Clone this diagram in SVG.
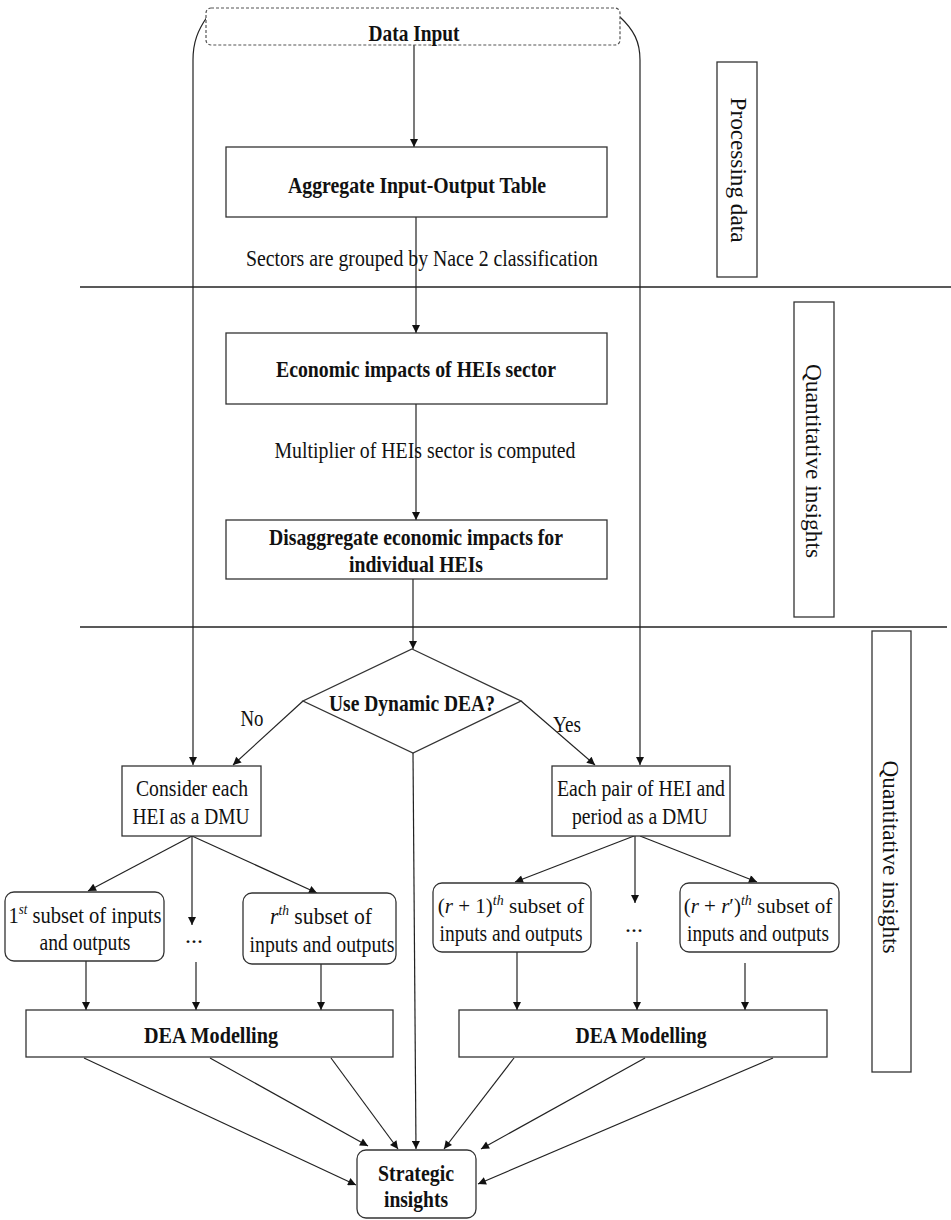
<svg xmlns="http://www.w3.org/2000/svg" width="951" height="1220" viewBox="0 0 951 1220">
<style>
.box{fill:#fff;stroke:#333;stroke-width:1.3}
.ln{fill:none;stroke:#222;stroke-width:1.2}
.ar{marker-end:url(#ah)}
.sep{stroke:#222;stroke-width:1.3}
.b{font-family:"Liberation Serif","Times New Roman",serif;font-weight:bold;font-size:24px;text-anchor:middle;fill:#111}
.t{font-family:"Liberation Serif","Times New Roman",serif;font-size:24px;text-anchor:middle;fill:#111}
.t21{font-size:21px}
.v{font-family:"Liberation Serif","Times New Roman",serif;font-size:23px;text-anchor:middle;fill:#111}
.sup{font-size:15px;font-style:italic}
.sup14{font-size:14px;font-style:italic}
.i{font-style:italic}
</style>
<defs>
<marker id="ah" viewBox="0 0 10 10" refX="10" refY="5" markerWidth="9" markerHeight="8" markerUnits="userSpaceOnUse" orient="auto">
<path d="M0,0 L10,5 L0,10 z" fill="#111"/>
</marker>
</defs>
<rect width="951" height="1220" fill="#fff"/>

<g id="separators">
<line class="sep" x1="80" y1="287" x2="951" y2="287"/>
<line class="sep" x1="80" y1="627" x2="947" y2="627"/>
</g>

<g id="connectors">
<path class="ln ar" d="M414,45 V147"/>
<path class="ln ar" d="M416,217 V333"/>
<path class="ln ar" d="M416,404 V520"/>
<path class="ln ar" d="M413,579 V649"/>
<path class="ln ar" d="M303,701 L233,765"/>
<path class="ln ar" d="M521,701 L595,765"/>
<path class="ln ar" d="M413,753 L416,1149"/>
<path class="ln ar" d="M207,17 C198,30 193,42 193,60 V765"/>
<path class="ln ar" d="M620,17 C634,30 640,42 640,60 V765"/>
<path class="ln ar" d="M192,836 L88,891"/>
<path class="ln ar" d="M192,836 V925"/>
<path class="ln ar" d="M192,836 L317,893"/>
<path class="ln ar" d="M86,961 V1010"/>
<path class="ln ar" d="M196,962 V1010"/>
<path class="ln ar" d="M321,964 V1010"/>
<path class="ln ar" d="M634,836 L515,882"/>
<path class="ln ar" d="M635,836 V903"/>
<path class="ln ar" d="M640,836 L757,882"/>
<path class="ln ar" d="M517,952 V1010"/>
<path class="ln ar" d="M637,942 V1010"/>
<path class="ln ar" d="M745,963 V1010"/>
<path class="ln ar" d="M84,1058 L356,1185"/>
<path class="ln ar" d="M210,1058 L368,1146"/>
<path class="ln ar" d="M331,1058 L398,1149"/>
<path class="ln ar" d="M514,1058 L444,1149"/>
<path class="ln ar" d="M645,1058 L481,1149"/>
<path class="ln ar" d="M773,1058 L478,1184"/>
</g>

<g id="data-input">
<rect x="206" y="8" width="414" height="37" rx="5" fill="#fff" stroke="#555" stroke-width="1.2" stroke-dasharray="3,2"/>
<text class="b" x="414" y="41" textLength="91" lengthAdjust="spacingAndGlyphs">Data Input</text>
</g>

<g id="aggregate">
<rect class="box" x="226" y="147" width="381" height="70"/>
<text class="b" x="417" y="193" textLength="258" lengthAdjust="spacingAndGlyphs">Aggregate Input-Output Table</text>
</g>

<g id="label-sectors">
<text class="t" x="422" y="266" textLength="352" lengthAdjust="spacingAndGlyphs">Sectors are grouped by Nace 2 classification</text>
</g>

<g id="economic">
<rect class="box" x="226" y="333" width="381" height="71"/>
<text class="b" x="416" y="377" textLength="280" lengthAdjust="spacingAndGlyphs">Economic impacts of HEIs sector</text>
</g>

<g id="label-multiplier">
<text class="t" x="425" y="458" textLength="301" lengthAdjust="spacingAndGlyphs">Multiplier of HEIs sector is computed</text>
</g>

<g id="disaggregate">
<rect class="box" x="226" y="520" width="381" height="59"/>
<text class="b" x="416" y="545" textLength="294" lengthAdjust="spacingAndGlyphs">Disaggregate economic impacts for</text>
<text class="b" x="416" y="572" textLength="134" lengthAdjust="spacingAndGlyphs">individual HEIs</text>
</g>

<g id="decision">
<polygon class="box" points="412,649 521,701 413,753 303,701"/>
<text class="b" x="412" y="711" textLength="166" lengthAdjust="spacingAndGlyphs">Use Dynamic DEA?</text>
</g>

<g id="label-no">
<text class="t" x="252" y="726" textLength="23" lengthAdjust="spacingAndGlyphs">No</text>
</g>
<g id="label-yes">
<text class="t" x="567" y="732" textLength="28" lengthAdjust="spacingAndGlyphs">Yes</text>
</g>

<g id="consider">
<rect class="box" x="122" y="766" width="139" height="70"/>
<text class="t" x="192" y="796" textLength="112" lengthAdjust="spacingAndGlyphs">Consider each</text>
<text class="t" x="191" y="824" textLength="117" lengthAdjust="spacingAndGlyphs">HEI as a DMU</text>
</g>

<g id="each-pair">
<rect class="box" x="552" y="766" width="178" height="70"/>
<text class="t" x="641" y="796" textLength="168" lengthAdjust="spacingAndGlyphs">Each pair of HEI and</text>
<text class="t" x="640" y="824" textLength="136" lengthAdjust="spacingAndGlyphs">period as a DMU</text>
</g>

<g id="subset-1">
<rect class="box" x="5" y="892" width="159" height="69" rx="9"/>
<text class="t" x="85" y="923" textLength="153" lengthAdjust="spacingAndGlyphs">1<tspan class="sup" dy="-9">st</tspan><tspan dy="9"> subset of inputs</tspan></text>
<text class="t" x="85" y="950" textLength="91" lengthAdjust="spacingAndGlyphs">and outputs</text>
</g>

<g id="dots-left">
<text class="t" x="194" y="943">...</text>
</g>

<g id="subset-r">
<rect class="box" x="243" y="893" width="153" height="71" rx="9"/>
<text class="t" x="321" y="924" textLength="102" lengthAdjust="spacingAndGlyphs"><tspan class="i">r</tspan><tspan class="sup" dy="-9">th</tspan><tspan dy="9"> subset of</tspan></text>
<text class="t" x="322" y="952" textLength="145" lengthAdjust="spacingAndGlyphs">inputs and outputs</text>
</g>

<g id="subset-r1">
<rect class="box" x="433" y="883" width="158" height="69" rx="9"/>
<text class="t t21" x="511" y="913">(<tspan class="i">r</tspan> + 1)<tspan class="sup14" dy="-8">th</tspan><tspan dy="8"> subset of</tspan></text>
<text class="t" x="511" y="941" textLength="143" lengthAdjust="spacingAndGlyphs">inputs and outputs</text>
</g>

<g id="dots-right">
<text class="t" x="634" y="932">...</text>
</g>

<g id="subset-rr">
<rect class="box" x="680" y="883" width="159" height="69" rx="9"/>
<text class="t t21" x="758" y="913">(<tspan class="i">r</tspan> + <tspan class="i">r</tspan>′)<tspan class="sup14" dy="-8">th</tspan><tspan dy="8"> subset of</tspan></text>
<text class="t" x="758" y="941" textLength="142" lengthAdjust="spacingAndGlyphs">inputs and outputs</text>
</g>

<g id="dea-left">
<rect class="box" x="26" y="1010" width="367" height="47"/>
<text class="b" x="211" y="1043" textLength="134" lengthAdjust="spacingAndGlyphs">DEA Modelling</text>
</g>

<g id="dea-right">
<rect class="box" x="459" y="1010" width="368" height="47"/>
<text class="b" x="641" y="1043" textLength="131" lengthAdjust="spacingAndGlyphs">DEA Modelling</text>
</g>

<g id="strategic">
<rect class="box" x="357" y="1150" width="119" height="68" rx="9"/>
<text class="b" x="416" y="1181" textLength="76" lengthAdjust="spacingAndGlyphs">Strategic</text>
<text class="b" x="416" y="1207" textLength="64" lengthAdjust="spacingAndGlyphs">insights</text>
</g>

<g id="phase-processing">
<rect class="box" x="717" y="62" width="40" height="215"/>
<text class="v" transform="translate(731,170) rotate(90)" textLength="145" lengthAdjust="spacingAndGlyphs">Processing data</text>
</g>

<g id="phase-quant-1">
<rect class="box" x="794" y="302" width="40" height="315"/>
<text class="v" transform="translate(806,461) rotate(90)" textLength="194" lengthAdjust="spacingAndGlyphs">Quantitative insights</text>
</g>

<g id="phase-quant-2">
<rect class="box" x="872" y="631" width="39" height="441"/>
<text class="v" transform="translate(883,857) rotate(90)" textLength="193" lengthAdjust="spacingAndGlyphs">Quantitative insights</text>
</g>
</svg>
